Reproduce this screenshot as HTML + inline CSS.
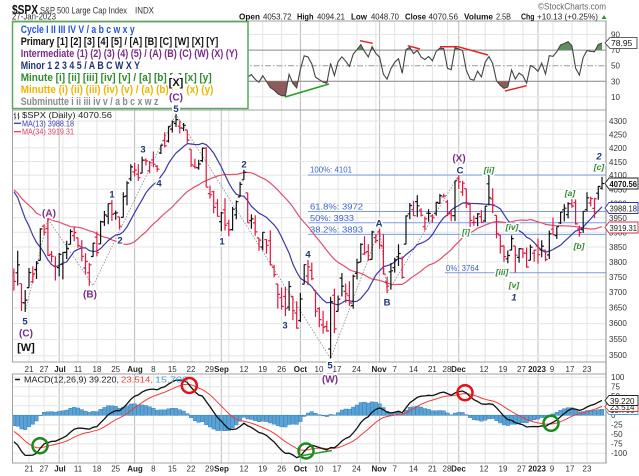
<!DOCTYPE html>
<html><head><meta charset="utf-8">
<style>
html,body{margin:0;padding:0;background:#fff;}
svg{display:block;font-family:"Liberation Sans",Arial,sans-serif;}
.ax{font-size:8px;fill:#333;}
.dl{font-size:8px;fill:#333;text-anchor:middle;}
.db{font-size:8px;fill:#222;text-anchor:middle;font-weight:bold;}
.h{paint-order:stroke;stroke:#fff;stroke-width:3px;stroke-linejoin:round;}
.mn{font-size:9.5px;font-weight:bold;fill:#1d3577;text-anchor:middle;}
.pu{font-size:10px;font-weight:bold;fill:#7a2b8a;text-anchor:middle;}
.pr{font-size:11px;font-weight:bold;fill:#111;text-anchor:middle;}
.gr{font-size:8.5px;font-style:italic;font-weight:bold;fill:#2e8b2e;text-anchor:middle;}
.fb{font-size:8px;fill:#3c64c8;}
.lg{font-size:11px;font-weight:bold;}
.hd{font-size:8.5px;fill:#222;}
.hb{font-size:8.5px;fill:#111;font-weight:bold;}
</style></head><body>
<svg id="c" width="639" height="476" viewBox="0 0 639 476" xmlns="http://www.w3.org/2000/svg">
<defs>
 <clipPath id="cpP"><rect x="12" y="110" width="594" height="252"/></clipPath>
 <clipPath id="cpR"><rect x="12" y="21" width="594" height="89"/></clipPath>
 <clipPath id="cpM"><rect x="12" y="374" width="594" height="89"/></clipPath>
 <clipPath id="cpR70"><rect x="12" y="21" width="594" height="29.1"/></clipPath>
 <clipPath id="cpR30"><rect x="12" y="81.3" width="594" height="28.7"/></clipPath>
</defs>
<rect width="639" height="476" fill="#fff"/>
<g id="grid"></g>

<line x1="12" y1="50.1" x2="606" y2="50.1" stroke="#8a8a8a" stroke-width="1"/>
<line x1="12" y1="81.3" x2="606" y2="81.3" stroke="#8a8a8a" stroke-width="1"/>
<line x1="12" y1="65.7" x2="606" y2="65.7" stroke="#9a9a9a" stroke-width="1" stroke-dasharray="6,2,1.5,2"/>
<g id="rsifill"></g>
<g id="rsi" clip-path="url(#cpR)"></g>

<g stroke-width="1.5" fill="none">
 <line x1="285" y1="97" x2="329" y2="84" stroke="#22a022"/>
 <line x1="360" y1="40.7" x2="372.7" y2="43.3" stroke="#e82020"/>
 <line x1="407.7" y1="45.7" x2="420" y2="49" stroke="#e82020"/>
 <polyline points="440,46.7 458,46.7 488,55" stroke="#e82020"/>
 <line x1="505" y1="91" x2="526.7" y2="85.7" stroke="#e82020"/>
</g>

<g stroke="#7b9be0" stroke-width="1">
 <line x1="308" y1="175" x2="606" y2="175"/>
 <line x1="308" y1="211.5" x2="606" y2="211.5"/>
 <line x1="308" y1="222.7" x2="606" y2="222.7"/>
 <line x1="308" y1="234.4" x2="606" y2="234.4"/>
 <line x1="445" y1="272.8" x2="606" y2="272.8"/>
</g>
<text class="fb" x="310" y="172.5" textLength="42" lengthAdjust="spacingAndGlyphs">100%: 4101</text>
<text class="fb" x="310" y="209.5" textLength="53" lengthAdjust="spacingAndGlyphs">61.8%: 3972</text>
<text class="fb" x="310" y="220.8" textLength="44" lengthAdjust="spacingAndGlyphs">50%: 3933</text>
<text class="fb" x="310" y="232.4" textLength="53" lengthAdjust="spacingAndGlyphs">38.2%: 3893</text>
<text class="fb" x="446" y="270.8" textLength="33" lengthAdjust="spacingAndGlyphs">0%: 3764</text>

<polyline points="25.2,311.9 47.9,219 93.1,285.6 176,114.3 330.6,358.7 379.6,228.9 387.2,292.9 458.8,175.2" fill="none" stroke="#8a8a8a" stroke-width="0.8" stroke-dasharray="1.5,1.5"/>

<g id="ma" clip-path="url(#cpP)" fill="none"></g>
<g id="bars" clip-path="url(#cpP)" fill="none" stroke-width="1.2"></g>

<g id="macd" clip-path="url(#cpM)"></g>

<g fill="none" stroke="#a0a0a0" stroke-width="1">
 <rect x="12.5" y="21" width="593.5" height="89"/>
 <rect x="12.5" y="110" width="593.5" height="252"/>
 <rect x="12.5" y="374" width="593.5" height="89"/>
</g>
<line x1="606" y1="21" x2="606" y2="463" stroke="#888" stroke-width="1"/>

<text x="12" y="14" font-size="12.5" font-weight="bold" fill="#111" textLength="26" lengthAdjust="spacingAndGlyphs">$SPX</text>
<text x="40" y="13.5" font-size="9" fill="#333" textLength="87" lengthAdjust="spacingAndGlyphs">S&amp;P 500 Large Cap Index</text>
<text x="135" y="13.5" font-size="9" fill="#333" textLength="19" lengthAdjust="spacingAndGlyphs">INDX</text>
<text x="12" y="19.5" font-size="9" fill="#333" textLength="44" lengthAdjust="spacingAndGlyphs">27-Jan-2023</text>
<text x="538" y="9.5" font-size="9" fill="#666" textLength="68" lengthAdjust="spacingAndGlyphs">©StockCharts.com</text>
<text class="hb" x="239" y="19.5" textLength="21" lengthAdjust="spacingAndGlyphs">Open</text>
<text class="hd" x="263" y="19.5" textLength="28.5" lengthAdjust="spacingAndGlyphs">4053.72</text>
<text class="hb" x="297" y="19.5" textLength="16.5" lengthAdjust="spacingAndGlyphs">High</text>
<text class="hd" x="317" y="19.5" textLength="28" lengthAdjust="spacingAndGlyphs">4094.21</text>
<text class="hb" x="351" y="19.5" textLength="16" lengthAdjust="spacingAndGlyphs">Low</text>
<text class="hd" x="371" y="19.5" textLength="28" lengthAdjust="spacingAndGlyphs">4048.70</text>
<text class="hb" x="405" y="19.5" textLength="21" lengthAdjust="spacingAndGlyphs">Close</text>
<text class="hd" x="428.5" y="19.5" textLength="29.5" lengthAdjust="spacingAndGlyphs">4070.56</text>
<text class="hb" x="464" y="19.5" textLength="29" lengthAdjust="spacingAndGlyphs">Volume</text>
<text class="hd" x="496" y="19.5" textLength="15" lengthAdjust="spacingAndGlyphs">2.5B</text>
<text class="hb" x="521" y="19.5" textLength="13.5" lengthAdjust="spacingAndGlyphs">Chg</text>
<text class="hd" x="537" y="19.5" textLength="61" lengthAdjust="spacingAndGlyphs">+10.13 (+0.25%)</text>
<path d="M601.5,19 L604,15 L606.5,19 Z" fill="#2a9a2a"/>

<g class="ax">
 <text x="611" y="37.5">90</text><text x="611" y="53.1">70</text><text x="611" y="68.7">50</text>
 <text x="611" y="84.3">30</text><text x="611" y="99.9">10</text>
</g>
<path d="M605,43 L610,37.5 L637,37.5 L637,48.5 L610,48.5 Z" fill="#fff" stroke="#333" stroke-width="0.8"/>
<text x="611" y="46" font-size="8.5" fill="#111">78.95</text>

<g class="ax">
 <text x="609" y="124">4300</text><text x="609" y="137.4">4250</text><text x="609" y="151">4200</text>
 <text x="609" y="164.8">4150</text><text x="609" y="178">4100</text><text x="609" y="192.3">4050</text>
 <text x="609" y="206.4">4000</text><text x="609" y="220.8">3950</text><text x="609" y="235.3">3900</text>
 <text x="609" y="250">3850</text><text x="609" y="264.8">3800</text><text x="609" y="279.9">3750</text>
 <text x="609" y="295.1">3700</text><text x="609" y="310.5">3650</text><text x="609" y="326.1">3600</text>
 <text x="609" y="341.9">3550</text><text x="609" y="358">3500</text>
</g>
<path d="M605,183.5 L609,178 L638,178 L638,189 L609,189 Z" fill="#fff" stroke="#222" stroke-width="0.9"/>
<text x="609.5" y="186.8" font-size="8.5" font-weight="bold" fill="#111" textLength="27.5" lengthAdjust="spacingAndGlyphs">4070.56</text>
<path d="M605,208 L609,202.5 L638,202.5 L638,213.5 L609,213.5 Z" fill="#fff" stroke="#3333a8" stroke-width="0.9"/>
<text x="609.5" y="211.3" font-size="8.5" fill="#222" textLength="27.5" lengthAdjust="spacingAndGlyphs">3988.18</text>
<path d="M605,227.5 L609,222 L638,222 L638,233 L609,233 Z" fill="#fff" stroke="#d0304a" stroke-width="0.9"/>
<text x="609.5" y="230.8" font-size="8.5" fill="#222" textLength="27.5" lengthAdjust="spacingAndGlyphs">3919.31</text>

<g class="ax">
 <text x="611" y="380">100</text><text x="611" y="389.5">75</text><text x="611" y="399">50</text>
 <text x="611" y="408.5">25</text><text x="611" y="418">0</text><text x="611" y="427.5">-25</text>
 <text x="611" y="437">-50</text><text x="611" y="446.5">-75</text><text x="611" y="456">-100</text>
</g>
<path d="M605,409.5 L609,404.5 L638,404.5 L638,414.5 L609,414.5 Z" fill="#fff" stroke="#4a9cd0" stroke-width="0.9"/>
<text x="610" y="413" font-size="8" fill="#222">15.706</text>
<path d="M605,406.5 L609,401.5 L638,401.5 L638,411.5 L609,411.5 Z" fill="#fff" stroke="#e03030" stroke-width="0.9"/>
<text x="610" y="409.8" font-size="8" fill="#222">23.514</text>
<path d="M605,400.5 L609,395.5 L638,395.5 L638,405.5 L609,405.5 Z" fill="#fff" stroke="#222" stroke-width="0.9"/>
<text x="610" y="403.8" font-size="8" fill="#111">39.220</text>

<g>
 <text class="dl" x="29" y="372">21</text><text class="dl" x="44" y="372">27</text><text class="db" x="60" y="372">Jul</text>
 <text class="dl" x="78" y="372">11</text><text class="dl" x="97" y="372">18</text><text class="dl" x="115.7" y="372">25</text>
 <text class="db" x="135" y="372">Aug</text><text class="dl" x="153.4" y="372">8</text><text class="dl" x="172.3" y="372">15</text>
 <text class="dl" x="191" y="372">22</text><text class="dl" x="209.5" y="372">29</text><text class="db" x="221.5" y="372">Sep</text>
 <text class="dl" x="244" y="372">12</text><text class="dl" x="262.7" y="372">19</text><text class="dl" x="281.6" y="372">26</text>
 <text class="db" x="300.4" y="372">Oct</text><text class="dl" x="319" y="372">10</text><text class="dl" x="337" y="372">17</text>
 <text class="dl" x="356.5" y="372">24</text><text class="db" x="379" y="372">Nov</text><text class="dl" x="394.7" y="372">7</text>
 <text class="dl" x="413.5" y="372">14</text><text class="dl" x="432.4" y="372">21</text><text class="dl" x="447" y="372">28</text>
 <text class="db" x="458.5" y="372">Dec</text><text class="dl" x="484" y="372">12</text><text class="dl" x="503" y="372">19</text>
 <text class="dl" x="521.5" y="372">27</text><text class="db" x="537" y="372">2023</text><text class="dl" x="552" y="372">9</text>
 <text class="dl" x="570" y="372">17</text><text class="dl" x="587" y="372">23</text>
</g>
<g>
 <text class="dl" x="29" y="471.5">21</text><text class="dl" x="44" y="471.5">27</text><text class="db" x="60" y="471.5">Jul</text>
 <text class="dl" x="78" y="471.5">11</text><text class="dl" x="97" y="471.5">18</text><text class="dl" x="115.7" y="471.5">25</text>
 <text class="db" x="135" y="471.5">Aug</text><text class="dl" x="153.4" y="471.5">8</text><text class="dl" x="172.3" y="471.5">15</text>
 <text class="dl" x="191" y="471.5">22</text><text class="dl" x="209.5" y="471.5">29</text><text class="db" x="221.5" y="471.5">Sep</text>
 <text class="dl" x="244" y="471.5">12</text><text class="dl" x="262.7" y="471.5">19</text><text class="dl" x="281.6" y="471.5">26</text>
 <text class="db" x="300.4" y="471.5">Oct</text><text class="dl" x="319" y="471.5">10</text><text class="dl" x="337" y="471.5">17</text>
 <text class="dl" x="356.5" y="471.5">24</text><text class="db" x="379" y="471.5">Nov</text><text class="dl" x="394.7" y="471.5">7</text>
 <text class="dl" x="413.5" y="471.5">14</text><text class="dl" x="432.4" y="471.5">21</text><text class="dl" x="447" y="471.5">28</text>
 <text class="db" x="458.5" y="471.5">Dec</text><text class="dl" x="484" y="471.5">12</text><text class="dl" x="503" y="471.5">19</text>
 <text class="dl" x="521.5" y="471.5">27</text><text class="db" x="537" y="471.5">2023</text><text class="dl" x="552" y="471.5">9</text>
 <text class="dl" x="570" y="471.5">17</text><text class="dl" x="587" y="471.5">23</text>
</g>

<path d="M15,112.5V119.5M13.8,114.5H15M15,117.5H16.2M18.5,112.5V119.5M17.3,115H18.5M18.5,117H19.7" stroke="#333" stroke-width="0.8" fill="none"/>
<text x="22" y="118" font-size="8.5" fill="#222" textLength="90" lengthAdjust="spacingAndGlyphs">$SPX (Daily) 4070.56</text>
<line x1="14" y1="123.3" x2="21" y2="123.3" stroke="#3a3aa8" stroke-width="1.3"/>
<text x="22" y="126.3" font-size="8" fill="#3a3aa8" textLength="52" lengthAdjust="spacingAndGlyphs">MA(13) 3988.18</text>
<line x1="14" y1="131.7" x2="21" y2="131.7" stroke="#e0405a" stroke-width="1.3"/>
<text x="22" y="134.7" font-size="8" fill="#e0405a" textLength="52" lengthAdjust="spacingAndGlyphs">MA(34) 3919.31</text>

<line x1="15" y1="379.5" x2="20" y2="379.5" stroke="#111" stroke-width="1.5"/>
<text x="24" y="382.5" font-size="8.5" fill="#222" textLength="95" lengthAdjust="spacingAndGlyphs">MACD(12,26,9) 39.220,</text>
<text x="121" y="382.5" font-size="8.5" fill="#f03c3c" textLength="32" lengthAdjust="spacingAndGlyphs">23.514,</text>
<text x="155" y="382.5" font-size="8.5" fill="#4a9cd0" textLength="33" lengthAdjust="spacingAndGlyphs">15.706</text>

<g fill="none" stroke-width="2.5">
 <circle cx="40" cy="445.7" r="7.5" stroke="#1a8a1a"/>
 <circle cx="189.3" cy="385.5" r="7.5" stroke="#e81010"/>
 <circle cx="306" cy="451" r="7.5" stroke="#1a8a1a"/>
 <circle cx="465" cy="392.7" r="7.5" stroke="#e81010"/>
 <circle cx="551" cy="423.3" r="7.5" stroke="#1a8a1a"/>
</g>
<line x1="300" y1="456" x2="332" y2="450.5" stroke="#22a022" stroke-width="1.5"/>

<g>
 <text class="mn h" x="25" y="324.5">5</text>
 <text class="pu h" x="26" y="336.5">(C)</text>
 <text class="pr h" x="26" y="351">[W]</text>
 <text class="pu h" x="49" y="216.5">(A)</text>
 <text class="pu h" x="90" y="297.5">(B)</text>
 <text class="mn h" x="112" y="197.5">1</text>
 <text class="mn h" x="120" y="243.5">2</text>
 <text class="mn h" x="143" y="152.5">3</text>
 <text class="mn h" x="159" y="186.5">4</text>
 <text class="mn h" x="244" y="167.5">2</text>
 <text class="mn h" x="222" y="244.5">1</text>
 <text class="mn h" x="285" y="328.5">3</text>
 <text class="mn h" x="308" y="257.5">4</text>
 <text class="mn h" x="330" y="368.5">5</text>
 <text class="pu h" x="330" y="382.5">(W)</text>
 <text class="mn h" x="379" y="226.5">A</text>
 <text class="mn h" x="387" y="305.5">B</text>
 <text class="pu h" x="459" y="161.5">(X)</text>
 <text class="mn h" x="460" y="173.5">C</text>
 <text class="gr h" x="489" y="173">[ii]</text>
 <text class="gr h" x="466" y="235">[i]</text>
 <text class="gr h" x="512" y="230">[iv]</text>
 <text class="gr h" x="502" y="275">[iii]</text>
 <text class="gr h" x="514" y="288">[v]</text>
 <text class="mn h" x="514" y="300.5" font-style="italic">1</text>
 <text class="gr h" x="570" y="196">[a]</text>
 <text class="gr h" x="579" y="249">[b]</text>
 <text class="mn h" x="599" y="159.5" font-style="italic">2</text>
 <text class="gr h" x="599" y="170">[c]</text>
</g>

<rect x="12.5" y="21.7" width="235.5" height="86.8" fill="#fff" stroke="#5aaa5a" stroke-width="1.5"/>
<text class="lg" x="20.7" y="33" fill="#2255dd" textLength="114" lengthAdjust="spacingAndGlyphs">Cycle I II III IV V / a b c w x y</text>
<text class="lg" x="20.7" y="45" fill="#111" textLength="197.6" lengthAdjust="spacingAndGlyphs">Primary [1] [2] [3] [4] [5] / [A] [B] [C] [W] [X] [Y]</text>
<text class="lg" x="20.7" y="57" fill="#7a2b8a" textLength="217" lengthAdjust="spacingAndGlyphs">Intermediate (1) (2) (3) (4) (5) / (A) (B) (C) (W) (X) (Y)</text>
<text class="lg" x="20.7" y="69" fill="#1d3577" textLength="119.3" lengthAdjust="spacingAndGlyphs">Minor 1 2 3 4 5 / A B C W X Y</text>
<text class="lg" x="20.7" y="81" fill="#2e8b2e" textLength="191" lengthAdjust="spacingAndGlyphs">Minute [i] [ii] [iii] [iv] [v] / [a] [b] [c] [x] [y]</text>
<text class="lg" x="20.7" y="93" fill="#f0b400" textLength="192.7" lengthAdjust="spacingAndGlyphs">Minutte (i) (ii) (iii) (iv) (v) / (a) (b) (c) (x) (y)</text>
<text class="lg" x="20.7" y="105" fill="#8a8a8a" textLength="137.7" lengthAdjust="spacingAndGlyphs">Subminutte i ii iii iv v / a b c x w z</text>

<rect x="169" y="75" width="15" height="14" fill="#fff"/>
<rect x="168" y="89.5" width="16" height="13" fill="#fff"/>
<rect x="172" y="103" width="8" height="10" fill="#fff"/>
<text class="pr" x="176" y="86">[X]</text>
<text class="pu" x="176" y="100.5">(C)</text>
<text class="mn" x="176" y="111.8">5</text>
</svg>
<script>
(function(){
var pre=[4306.26,4386.54,4363.49,4328.87,4201.09,4170.70,4277.88,4259.52,4204.31,4173.11,4262.45,4357.86,4411.67,4463.12,4461.18,4511.61,4456.24,4520.16,4543.06,4575.52,4631.60,4602.45,4530.41,
4545.86,4582.64,4525.12,4481.15,4500.21,4488.28,4412.53,4397.45,4446.59,4392.59,4391.69,4462.21,4459.45,4393.66,4271.78,4296.12,4175.20,4183.96,4287.50,4131.93,
4155.38,4175.48,4300.17,4146.87,4123.34,3991.24,4001.05,3935.18,3930.08,4023.89,4008.01,4088.85,3923.68,3900.79,3901.36,3973.75,3941.48,3978.73,4057.84,4158.24,4132.15,
4101.23,4176.82,4108.54,4121.43,4160.68,4115.77,4017.82,3900.86,3749.63];
var V=[
[3763.5,3778.2,3705.7,3735.5],[3764,3837.6,3722.3,3790],[3728.2,3728.2,3639.8,3666.8],[3665.9,3707.7,3636.9,3674.8],
[3715.3,3779.7,3715.3,3764.8],[3733.9,3785,3729.3,3759.9],[3774.7,3802.6,3743.5,3795.7],[3805,3913.7,3805,3911.7],
[3920.8,3927.7,3889.7,3900.1],[3913,3945.9,3820.1,3821.6],[3825.1,3836.5,3799,3818.8],[3786,3819,3738.7,3785.4],
[3781,3829.8,3752.1,3825.3],[3792.6,3832.2,3742.1,3831.4],[3832,3870.9,3809.4,3845.1],[3858.9,3910.6,3858.9,3902.6],[3888.3,3918.5,3869.3,3899.4],
[3880.9,3880.9,3847.2,3854.4],[3851,3873.4,3802.4,3818.8],[3779.7,3829.4,3759.1,3801.8],[3764,3796.4,3721.6,3790.4],[3818,3863.6,3817.2,3863.2],
[3883.8,3902.4,3818.6,3830.9],[3860.7,3939.8,3860.7,3936.7],[3935.3,3974.1,3922,3959.9],[3955.5,3999.3,3927.6,3999],[4000.2,4012.4,3938.8,3961.6],
[3965.7,3975.3,3943.5,3966.8],[3953.2,3953.2,3910.7,3921.1],[3951.4,4039.6,3951.4,4023.6],[4026.1,4079,3993,4072.4],[4087.3,4140.2,4079.2,4130.3],
[4112.4,4145,4096,4118.6],[4104.2,4140.5,4079.8,4091.2],[4108,4167.7,4108,4155.2],[4154.9,4161.3,4135.4,4151.9],[4115.9,4151.6,4107.3,4145.2],
[4155.9,4186.6,4129,4140.1],[4133.1,4137.3,4112.1,4122.5],[4181,4211,4177.3,4210.2],[4227.4,4257.9,4201.4,4207.3],[4225,4280.5,4219.8,4280.2],
[4269.4,4301.8,4256.9,4297.1],[4290.5,4325.3,4277.8,4305.2],[4280.4,4302.2,4253.1,4274],[4273.1,4292.5,4262,4283.7],[4266.3,4266.3,4218.7,4228.5],
[4195.1,4195.1,4129.9,4138],[4133.1,4159.8,4124,4128.7],[4126.6,4156.6,4120,4140.8],[4153.3,4200.5,4147.6,4199.1],[4198.7,4203,4057.7,4057.7],
[4034.6,4063,4017.4,4030.6],[4041.3,4045,3965.2,3986.2],[4000.7,4015.4,3954.5,3955],
[3936.7,3970.2,3903.7,3966.9],[3977.6,4018.4,3906.2,3924.3],[3930.9,3942.6,3886.8,3908.2],[3909.4,3987.9,3906,3979.9],[3959.9,4010.5,3944.8,4006.2],
[4022.9,4076.8,4022.9,4067.4],[4083.7,4119.3,4083.7,4110.4],[4037.1,4037.1,3932.4,3932.7],[3940.7,3961.9,3912.2,3946],[3932.4,3959.1,3888.3,3901.4],
[3880.9,3880.9,3837.1,3873.3],[3849.9,3900.5,3838.5,3899.9],[3875.2,3876,3827.5,3855.9],[3871.4,3907.1,3789.5,3789.9],[3782.4,3790.7,3749.4,3758],
[3727.1,3727.1,3647.5,3693.2],[3682.7,3715.7,3644.8,3655],[3686.4,3717.5,3623.3,3647.3],[3651.9,3736.7,3640.6,3719],[3687,3687,3610.4,3640.5],
[3633.5,3671.4,3584.1,3585.6],
[3609.8,3698.3,3604.9,3678.4],[3726.5,3791.9,3726.5,3790.9],[3753.3,3806.9,3722.7,3783.3],[3772,3797.9,3739.2,3744.5],[3706.7,3706.7,3620.7,3639.7],
[3647.5,3652.2,3588.1,3612.4],[3595.9,3640.7,3568.5,3588.8],[3590.8,3608.3,3573.9,3577],[3520.4,3685.4,3491.6,3669.9],[3690.4,3712,3570.1,3583.1],
[3638.7,3689.7,3638.7,3678],[3746.3,3762.8,3686.5,3720],[3703.1,3728.6,3666.5,3695.2],[3689.1,3736,3656.4,3665.8],[3657.1,3757.9,3647.4,3752.8],
[3762,3810.7,3741.7,3797.3],[3799.4,3862.9,3799.4,3859.1],[3826,3886.2,3824.1,3830.6],[3834.7,3860,3803.8,3807.3],[3808.3,3905.4,3808.3,3901.1],
[3881.9,3893.7,3863.2,3872],
[3901.8,3911.8,3843.8,3856.1],[3852.9,3894.4,3758.7,3759.7],[3733.3,3750.6,3698.2,3719.9],[3767,3796.3,3708.8,3770.6],
[3780.7,3814,3764.7,3806.8],[3817,3859.4,3786.3,3828.1],[3810.9,3818.2,3744.2,3748.6],[3859.9,3958.3,3859.9,3956.4],[3963.7,4001.5,3944.8,3992.9],
[3978,4009,3956.4,3957.3],[4006.4,4028.8,3953.2,3991.7],[3976.8,3983.1,3954.3,3958.8],[3919.3,3954.3,3906.5,3946.6],[3966.4,3979.9,3936,3965.3],
[3956.2,3962,3933.3,3949.9],[3965.5,4005.9,3956.9,4003.6],[4000.3,4033.8,3998.7,4027.3],[4023.3,4034,4020.8,4026.1],
[4005.4,4012.3,3955.8,3963.9],[3964.2,3976.8,3937.7,3957.6],[3957.2,4080.1,3938.6,4080.1],
[4087.1,4100.5,4050.9,4076.6],[4040.2,4080.5,4026.6,4071.7],
[4052,4052.5,3984.5,3998.8],[3996.6,4001.5,3918.4,3941.3],[3933.3,3957.6,3922.7,3933.9],[3947.8,3966.4,3921,3963.5],[3954.2,3977,3933,3934.4],
[3939.3,3990.7,3935.3,3990.6],[4069.4,4101,3993,4019.7],[4015.5,4053.8,3965.7,3995.3],[3958.4,3958.4,3879.5,3895.8],[3890.9,3890.9,3827.9,3852.4],
[3853.8,3854.9,3800,3817.7],[3810.5,3838.2,3795.6,3821.6],[3839.5,3889.3,3839.5,3878.4],[3853.6,3853.6,3764.5,3822.4],[3815.1,3845.8,3797,3844.8],
[3843.3,3846.7,3813.2,3829.3],[3829.6,3848.3,3780.8,3783.2],[3805.5,3858.2,3805.5,3849.3],[3829.1,3839.9,3800.3,3839.5],
[3853.3,3878.5,3794.3,3824.1],[3840.4,3873.2,3815.8,3853],[3839.7,3839.7,3802.4,3808.1],[3823.4,3906.2,3809.6,3895.1],
[3910.8,3950.6,3890.4,3892.1],[3888.6,3919.8,3877.3,3919.3],[3932.4,3970.1,3928.5,3969.6],[3977.6,3997.8,3937.6,3983.2],[3960.6,4004,3947.7,3999.1],
[3999.3,4015.4,3984.6,3991],[4002.3,4014.2,3926.6,3928.9],[3911.8,3922.9,3885.5,3898.9],[3909,3973,3897.9,3972.6],
[3978.1,4039.3,3971.6,4019.8],[4001.7,4023.9,3989.8,4017],[3982.7,4019.6,3949.1,4016.2],[4036.1,4061.6,4013.3,4060.4],[4053.7,4094.2,4048.7,4070.6]
];
function X(i){return 29+3.77*i;}
function PY(p){return 121+1140*Math.log(4300/p);}
function RY(v){return 65.7-(v-50)*0.78;}
function MY(v){return 415.3-v*0.38;}
function f(v){return v.toFixed(1);}
var n0=pre.length,C=pre.concat(V.map(function(b){return b[3];})),N=C.length;
function sma(n,k){var s=0;for(var j=k-n+1;j<=k;j++)s+=C[j];return s/n;}
var RP=5;
var rsi=[],ag=0,al=0,k;
for(k=1;k<N;k++){var d=C[k]-C[k-1],g=d>0?d:0,l=d<0?-d:0;
 if(k<=RP){ag+=g/RP;al+=l/RP;}else{ag=(ag*(RP-1)+g)/RP;al=(al*(RP-1)+l)/RP;}
 rsi[k]=100-100/(1+ag/(al||1e-9));}
var mac=[],sg=[],e12=C[0],e26=C[0],s9=0;
for(k=0;k<N;k++){e12+=(C[k]-e12)*2/13;e26+=(C[k]-e26)*2/27;mac[k]=e12-e26;s9=k?s9+(mac[k]-s9)*0.2:mac[k];sg[k]=s9;}
var wk=[0,4,9,13,18,23,28,33,38,43,48,53,57,62,67,72,77,82,87,92,97,102,107,111,116,121,126,131,135,139,144,148];
var mo=[8,28,51,72,93,114,135];
var panels=[[21,110],[110,362],[374,463]],s='';
panels.forEach(function(p){
 wk.forEach(function(i){s+='<line x1="'+f(X(i))+'" y1="'+p[0]+'" x2="'+f(X(i))+'" y2="'+p[1]+'" stroke="#e4e4e4" stroke-width="1"/>';});
 mo.forEach(function(i){s+='<line x1="'+f(X(i))+'" y1="'+p[0]+'" x2="'+f(X(i))+'" y2="'+p[1]+'" stroke="#bdbdbd" stroke-width="1"/>';});
});
var v;
for(v=3500;v<=4300;v+=50){var y=f(PY(v));s+='<line x1="12" y1="'+y+'" x2="606" y2="'+y+'" stroke="#e6e6e6" stroke-width="1"/>';}
for(v=-100;v<=100;v+=25){var y2=f(MY(v));s+='<line x1="12" y1="'+y2+'" x2="606" y2="'+y2+'" stroke="'+(v===0?'#d0d0d0':'#e6e6e6')+'" stroke-width="1"/>';}
[90,10].forEach(function(v){var y3=f(RY(v));s+='<line x1="12" y1="'+y3+'" x2="606" y2="'+y3+'" stroke="#e6e6e6" stroke-width="1"/>';});
document.getElementById('grid').innerHTML=s;
var b='',m13='',m34='',rp='',mp='',sp='',hs='';
for(var j=0;j<V.length;j++){
 k=n0+j;var i=j-4,x=X(i),o=V[j][0],h=V[j][1],lo=V[j][2],c=V[j][3];
 var col=c>=C[k-1]?'#111':'#e3173e';
 b+='<path d="M'+f(x)+','+f(PY(h))+'V'+f(PY(lo))+'M'+f(x-2.2)+','+f(PY(o))+'H'+f(x)+'M'+f(x)+','+f(PY(c))+'H'+f(x+2.2)+'" stroke="'+col+'"/>';
 var L=j?'L':'M';
 m13+=L+f(x)+','+f(PY(sma(13,k)));
 m34+=L+f(x)+','+f(PY(sma(34,k)));
 rp+=L+f(x)+','+f(RY(rsi[k]));
 mp+=L+f(x)+','+f(MY(mac[k]));
 sp+=L+f(x)+','+f(MY(sg[k]));
 var hv=mac[k]-sg[k],y0=MY(0),yh=MY(hv);
 hs+='<rect x="'+f(x-1.8)+'" y="'+f(Math.min(y0,yh))+'" width="3.6" height="'+f(Math.abs(yh-y0)+0.01)+'"/>';
}
document.getElementById('bars').innerHTML=b;
document.getElementById('ma').innerHTML='<path d="'+m34+'" stroke="#e0506a" stroke-width="1.2"/><path d="'+m13+'" stroke="#3a3aa8" stroke-width="1.2"/>';
var x0=f(X(-4)),x1=f(X(152));
var body=rp.substring(1);
document.getElementById('rsifill').innerHTML=
 '<path clip-path="url(#cpR70)" d="M'+x0+','+f(RY(70))+'L'+body+'L'+x1+','+f(RY(70))+'Z" fill="#5f8f5f"/>'+
 '<path clip-path="url(#cpR30)" d="M'+x0+','+f(RY(30))+'L'+body+'L'+x1+','+f(RY(30))+'Z" fill="#8e5a5a"/>';
document.getElementById('rsi').innerHTML='<path d="'+rp+'" fill="none" stroke="#444" stroke-width="1.1"/>';
document.getElementById('macd').innerHTML='<g fill="#5aa3d6" stroke="#2c7bb6" stroke-width="0.4">'+hs+'</g>'+
 '<path d="'+sp+'" fill="none" stroke="#f03c3c" stroke-width="1"/>'+
 '<path d="'+mp+'" fill="none" stroke="#111" stroke-width="1.3"/>';
})();
</script>
</body></html>
